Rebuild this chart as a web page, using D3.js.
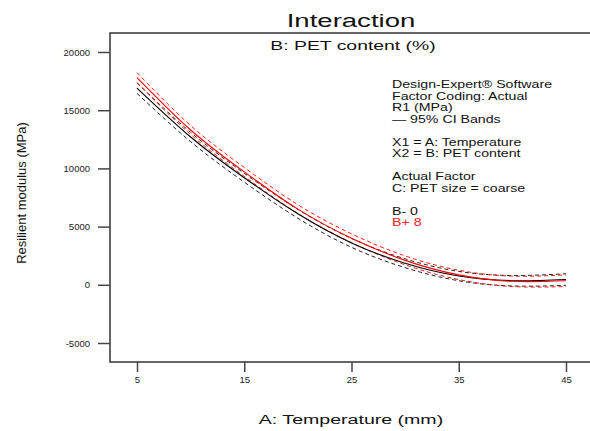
<!DOCTYPE html>
<html>
<head>
<meta charset="utf-8">
<script src="https://cdn.jsdelivr.net/npm/d3@7"></script>
<style>
  body { margin: 0; background: #fff; }
  text { font-family: "Liberation Sans", Arial, sans-serif; }
</style>
</head>
<body>
<div class="chart"></div>
<script>
// A: Temperature values and fitted R1 (MPa) for both PET content levels
const tempA   = [5, 10, 15, 20, 25, 30, 35, 40, 45];
const b0Fit   = [16900, 12700, 9200, 6100, 3600, 1850, 750, 350, 450];
const b0Upper = [17350, 13100, 9580, 6480, 3980, 2230, 1150, 800, 950];
const b0Lower = [16450, 12300, 8820, 5720, 3220, 1470, 350, -100, -50];
const b8Fit   = [17800, 13300, 9700, 6500, 4000, 2100, 850, 300, 350];
const b8Upper = [18230, 13680, 10080, 6880, 4380, 2480, 1250, 750, 850];
const b8Lower = [17370, 12920, 9320, 6120, 3620, 1720, 450, -150, -150];
const xTicks = [5, 15, 25, 35, 45];
const yTicks = [-5000, 0, 5000, 10000, 15000, 20000];
const legendLines = [
  "Design-Expert\u00ae Software", "Factor Coding: Actual", "R1 (MPa)", "\u2014 95% CI Bands", "",
  "X1 = A: Temperature", "X2 = B: PET content", "",
  "Actual Factor", "C: PET size = coarse", ""
];

const margin = ({top: 33, right: 0, bottom: 69, left: 110});
const width = 590 - margin.left - margin.right,
    height = 431 - margin.top - margin.bottom;

const svg0 = d3.select(".chart").append("svg")
    .attr("width", 590)
    .attr("height", 431);
const svg = svg0.append("g")
    .attr("transform", "translate(" + margin.left + "," + margin.top + ")");

const xScale = d3.scaleLinear().domain([5, 45]).range([27, 456]);
const yScale = d3.scaleLinear().domain([-5000, 20000]).range([310, 19]);

// frame (right side runs off the picture)
svg.append("path")
    .attr("d", "M" + (width + 5) + ",0H0V" + height + "H" + (width + 5))
    .attr("fill", "none")
    .attr("stroke", "#333")
    .attr("stroke-width", 1.5);

const xAxis = d3.axisBottom(xScale).tickValues(xTicks).tickSize(10).tickPadding(4);
const yAxis = d3.axisLeft(yScale).tickValues(yTicks).tickSize(12).tickPadding(8)
    .tickFormat(d => String(d));

svg.append("g")
    .attr("class", "x-axis")
    .attr("transform", "translate(0," + height + ")")
    .call(xAxis)
    .call(g => g.select(".domain").remove());
svg.append("g")
    .attr("class", "y-axis")
    .call(yAxis)
    .call(g => g.select(".domain").remove());

svg.selectAll(".tick line").attr("stroke", "#444").attr("stroke-width", 1.5);
svg.selectAll(".tick text")
    .attr("font-family", "'Liberation Sans', Arial, sans-serif")
    .attr("font-size", 9.5)
    .attr("fill", "#222");

// lines
const line = d3.line()
    .x((d, i) => xScale(tempA[i]))
    .y(d => yScale(d))
    .curve(d3.curveNatural);

const series = [
  {vals: b0Upper, color: "#222", dash: "4,3", w: 1},
  {vals: b0Lower, color: "#222", dash: "4,3", w: 1},
  {vals: b8Upper, color: "#ff1a1a", dash: "4,3", w: 1},
  {vals: b8Lower, color: "#ff1a1a", dash: "4,3", w: 1},
  {vals: b0Fit, color: "#000", dash: null, w: 1.1},
  {vals: b8Fit, color: "#ff0000", dash: null, w: 1.1}
];
svg.append("g").selectAll("path")
    .data(series)
    .join("path")
    .attr("fill", "none")
    .attr("stroke", d => d.color)
    .attr("stroke-width", d => d.w)
    .attr("stroke-dasharray", d => d.dash)
    .attr("d", d => line(d.vals));

// wide-looking text: draw with a horizontal stretch
function wideText(parent, x, y, sx, txt, anchor) {
  return parent.append("text")
      .attr("transform", "translate(" + x + "," + y + ") scale(" + sx + ",1)")
      .attr("text-anchor", anchor || "start")
      .text(txt);
}

// titles
wideText(svg0, 351, 27, 1.45, "Interaction", "middle")
    .attr("font-size", 19).attr("fill", "#111");
wideText(svg0, 353, 50, 1.55, "B: PET content (%)", "middle")
    .attr("font-size", 12.5).attr("fill", "#111");
wideText(svg0, 351, 424, 1.45, "A: Temperature (mm)", "middle")
    .attr("font-size", 13.5).attr("fill", "#111");
svg0.append("text")
    .attr("transform", "translate(26,193) rotate(-90)")
    .attr("text-anchor", "middle")
    .attr("font-size", 13)
    .attr("fill", "#111")
    .text("Resilient modulus (MPa)");

// legend notes
const note = svg0.append("g")
    .attr("font-size", 10.5)
    .attr("fill", "#111");
legendLines.forEach((t, i) => {
  wideText(note, 392, 88 + i * 11.5, 1.35, t);
});
wideText(note, 392, 214.5, 1.35, "B- 0");
wideText(note, 392, 226, 1.35, "B+ 8").attr("fill", "#ff2020");
</script>
</body>
</html>
